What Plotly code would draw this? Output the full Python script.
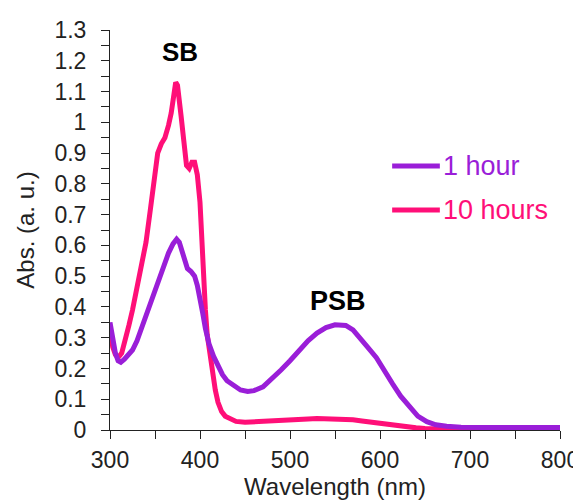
import plotly.graph_objects as go

# 10 hours spectrum
wl_10h = [300, 303, 306, 309, 313, 317, 321, 325, 330, 335, 340, 345, 350, 353, 357,
          361, 365, 368, 371, 373, 375, 377, 379, 382, 385, 388, 391, 394, 397, 400,
          402, 404, 406, 408, 411, 414, 417, 420, 424, 428, 434, 440, 450, 460, 470,
          480, 490, 500, 510, 520, 530, 540, 550, 560, 570, 580, 590, 600, 610, 620,
          630, 640, 650, 670, 700, 750, 800]
abs_10h = [0.33, 0.27, 0.245, 0.235, 0.25, 0.29, 0.34, 0.39, 0.46, 0.53, 0.61, 0.72, 0.84, 0.90, 0.93,
           0.95, 0.99, 1.03, 1.09, 1.13, 1.12, 1.08, 1.02, 0.94, 0.86, 0.85, 0.87, 0.87, 0.83, 0.74,
           0.60, 0.48, 0.39, 0.31, 0.24, 0.18, 0.13, 0.09, 0.06, 0.045, 0.035, 0.028, 0.025, 0.027, 0.028,
           0.03, 0.031, 0.033, 0.034, 0.036, 0.037, 0.037, 0.037, 0.036, 0.033, 0.029, 0.025, 0.02, 0.016, 0.012,
           0.009, 0.007, 0.005, 0.004, 0.003, 0.003, 0.003]

# 1 hour spectrum
wl_1h = [300, 303, 306, 309, 312, 316, 320, 325, 330, 335, 340, 345, 350, 355, 360,
         365, 370, 374, 377, 380, 383, 386, 390, 394, 397, 400, 403, 406, 410, 415,
         420, 425, 430, 437, 445, 453, 460, 470, 480, 490, 500, 510, 520, 530, 540,
         550, 556, 562, 570, 578, 586, 596, 605, 614, 623, 633, 642, 652, 662, 674,
         690, 720, 760, 800]
abs_1h = [0.35, 0.29, 0.25, 0.225, 0.22, 0.23, 0.245, 0.26, 0.29, 0.33, 0.37, 0.41, 0.46, 0.5, 0.54,
          0.575, 0.605, 0.62, 0.61, 0.58, 0.545, 0.525, 0.515, 0.5, 0.47, 0.43, 0.38, 0.33, 0.28, 0.24,
          0.205, 0.18, 0.16, 0.145, 0.13, 0.125, 0.128, 0.14, 0.165, 0.195, 0.225, 0.26, 0.29, 0.315, 0.333,
          0.342, 0.343, 0.34, 0.325, 0.3, 0.27, 0.235, 0.19, 0.15, 0.11, 0.075, 0.045, 0.027, 0.017, 0.012,
          0.009, 0.008, 0.008, 0.008]

purple = '#9a1ed8'
pink = '#ff0f78'
font = 'Liberation Sans, Arial, sans-serif'

fig = go.Figure()
fig.add_trace(go.Scatter(x=wl_10h, y=abs_10h, mode='lines', name='10 hours',
                         line=dict(color=pink, width=5)))
fig.add_trace(go.Scatter(x=wl_1h, y=abs_1h, mode='lines', name='1 hour',
                         line=dict(color=purple, width=5)))

# peak labels
fig.add_annotation(x=378, y=1.23, text='<b>SB</b>', showarrow=False,
                   font=dict(size=26, color='black', family=font))
fig.add_annotation(x=553, y=0.42, text='<b>PSB</b>', showarrow=False,
                   font=dict(size=27, color='black', family=font))

# hand-made legend with coloured text
legend_items = [('1 hour', purple, 0.66), ('10 hours', pink, 0.55)]
for label, col, yy in legend_items:
    fig.add_shape(type='line', xref='paper', yref='paper', x0=0.627, x1=0.733, y0=yy, y1=yy,
                  line=dict(color=col, width=5))
    fig.add_annotation(xref='paper', yref='paper', x=0.736, y=yy, text=label, showarrow=False,
                       xanchor='left', yanchor='middle', font=dict(size=27, color=col, family=font))

axis_common = dict(showline=True, linecolor='#222', linewidth=1, ticks='outside', ticklen=8,
                   tickcolor='#222', showgrid=False, zeroline=False, automargin=False,
                   tickfont=dict(size=23, color='#222', family=font))

# page body has an 8px margin, so the figure is a bit smaller than the window
fig.update_layout(
    width=573, height=493,
    margin=dict(l=102, r=21, t=22, b=71),
    plot_bgcolor='white', paper_bgcolor='white',
    showlegend=False,
    xaxis=dict(range=[300, 800], dtick=100, tick0=300,
               minor=dict(ticks='outside', dtick=50, ticklen=8, tickcolor='#222'),
               title=dict(text='Wavelength (nm)', font=dict(size=24, color='#222', family=font), standoff=1),
               ticklabelstandoff=1, **axis_common),
    yaxis=dict(range=[0, 1.3], dtick=0.1, tick0=0,
               minor=dict(ticks='outside', dtick=0.05, ticklen=8, tickcolor='#222'),
               title=dict(text='Abs. (a. u.)', font=dict(size=24, color='#222', family=font), standoff=13),
               ticklabelstandoff=10, **axis_common),
)

fig.write_html("out.html")
